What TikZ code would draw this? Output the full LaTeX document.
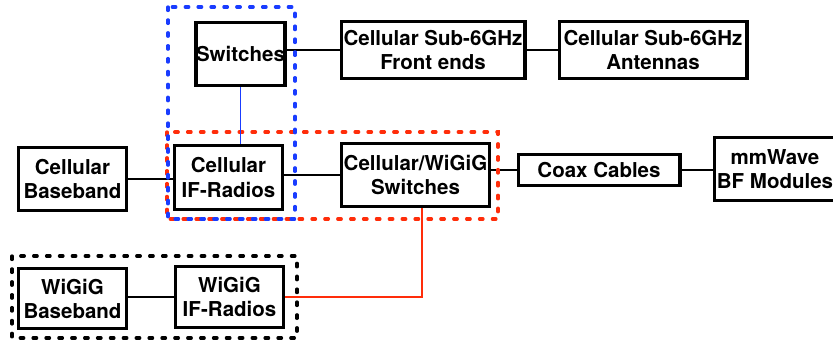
\documentclass[tikz,border=0pt]{standalone}
\usepackage{fontspec}
\setmainfont{TeX Gyre Heros}
\usetikzlibrary{positioning}
\usetikzlibrary{calc}

\definecolor{grpblue}{RGB}{25,60,255}
\definecolor{grpred}{RGB}{255,45,10}

\tikzset{
  blk/.style={draw,line width=3.4pt,rectangle,align=center,inner sep=0pt,
    font=\fontsize{17.5}{20.5}\selectfont\bfseries},
  wire/.style={line width=1.7pt},
  grp/.style={line width=2.8pt,dash pattern=on 3pt off 8pt,line cap=round}
}

\begin{document}
\begin{tikzpicture}[x=0.03cm,y=-0.03cm]
\useasboundingbox (0,0) rectangle (833,345);
\clip (0,0) rectangle (833,345);

% cellular side
\node[blk,minimum width=2.64cm,minimum height=1.89cm] (sw) at (240.5,54) {Switches};
\node[blk,minimum width=5.49cm,minimum height=1.71cm] (fe) at (433,50) {Cellular Sub-6GHz\\Front ends};
\node[blk,minimum width=5.61cm,minimum height=1.71cm] (ant) at (653,50) {Cellular Sub-6GHz\\Antennas};
\node[blk,minimum width=3.24cm,minimum height=1.89cm] (cbb) at (72.5,179) {Cellular\\Baseband};
\node[blk,minimum width=3.24cm,minimum height=1.92cm] (cif) at (228.5,177.5) {Cellular\\IF-Radios};
\node[blk,minimum width=4.44cm,minimum height=1.89cm] (cws) at (415.5,175) {Cellular/WiGiG\\Switches};
\node[blk,minimum width=4.83cm,minimum height=0.93cm] (coax) at (599,170) {Coax Cables};
\node[blk,minimum width=3.63cm,minimum height=1.89cm] (mmw) at (775,169) {mmWave\\BF Modules};

% wigig side
\node[blk,minimum width=3.24cm,minimum height=1.80cm] (wbb) at (72.5,298.5) {WiGiG\\Baseband};
\node[blk,minimum width=3.24cm,minimum height=1.83cm] (wif) at (229.5,297) {WiGiG\\IF-Radios};

% links
\draw[wire] (fe.west -| sw.east) -- (fe.west);
\draw[wire] (fe) -- (ant);
\draw[wire] (cbb.east) -- (cbb.east -| cif.west);
\draw[wire] (cws.west -| cif.east) -- (cws.west);
\draw[wire] (coax.west -| cws.east) -- (coax.west);
\draw[wire] (coax.east) -- (coax.east -| mmw.west);
\draw[wire] (wif.west -| wbb.east) -- (wif.west);
\draw[wire,grpred] (wif.east) -| ($(cws.south)+(6.5,0)$);

% groups
\draw[grp,grpred] (167,132) rectangle (498,219);
\draw[grp,grpblue] (168,7) rectangle (295,219);
\draw[grp,black] (12,256) rectangle (297,338);
\draw[wire,grpblue] (sw.south) -- (sw.south |- cif.north);

\end{tikzpicture}
\end{document}
